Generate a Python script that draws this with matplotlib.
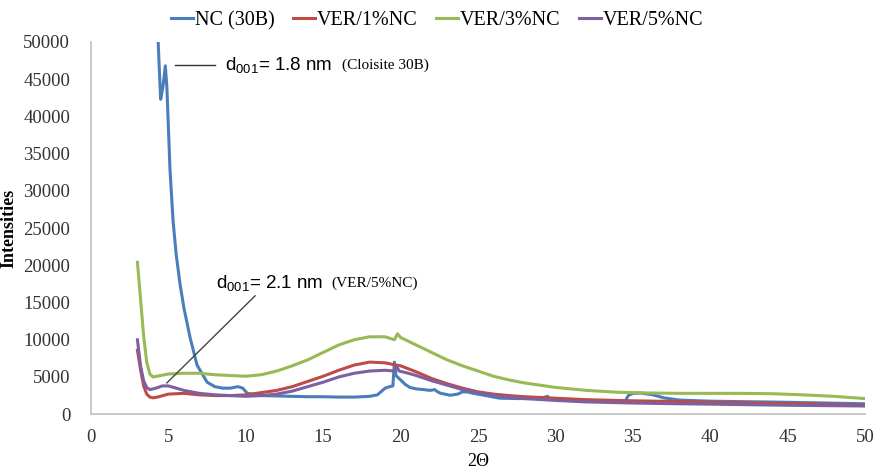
import matplotlib
matplotlib.use("Agg")
import matplotlib.pyplot as plt

# ---- data ----
nc_x = [4.3, 4.4, 4.5, 4.65, 4.8, 4.9, 5.1, 5.3, 5.5, 5.75, 6.0, 6.4, 6.85, 7.5, 8.0, 8.5, 9.0, 9.5, 9.8, 10.1,
        11, 12, 13, 14, 15, 16, 17, 18, 18.5, 19.0, 19.3, 19.5, 19.6, 19.7, 19.9, 20.0, 20.3, 20.6, 21, 21.5,
        21.9, 22.2, 22.4, 22.6, 23.2, 23.7, 24.0, 24.3, 24.7, 25.5, 26.4, 27.5, 29.0, 29.5, 29.6, 30, 31, 32,
        33, 34, 34.5, 34.7, 35, 35.5, 36.3, 37, 38, 40, 45, 50]
nc_y = [52000, 47000, 42300, 44000, 46800, 44000, 33000, 26000, 21500, 17500, 14300, 10300, 6600, 4300, 3700,
        3500, 3500, 3700, 3500, 2800, 2500, 2450, 2400, 2350, 2350, 2300, 2300, 2400, 2600, 3500, 3700, 3800,
        7000, 5200, 4800, 4600, 4000, 3600, 3400, 3300, 3200, 3300, 3000, 2800, 2550, 2700, 3000, 3000, 2800,
        2500, 2150, 2100, 2100, 2400, 2100, 2000, 1900, 1850, 1800, 1750, 1700, 2500, 2800, 2850, 2600, 2200,
        1900, 1750, 1600, 1400]

v1_x = [3.0, 3.2, 3.4, 3.6, 3.8, 4.0, 4.3, 5, 6, 7, 8, 9, 10, 11, 12, 13, 14, 15, 16, 17, 18, 19, 19.7, 20,
        21, 22, 23, 24, 25, 26, 27, 28, 30, 32, 35, 38, 40, 45, 50]
v1_y = [8600, 6000, 3800, 2700, 2300, 2200, 2300, 2700, 2800, 2600, 2500, 2500, 2600, 2900, 3200, 3700, 4400,
        5100, 5900, 6600, 7000, 6900, 6600, 6500, 5700, 4800, 4100, 3500, 3000, 2700, 2500, 2350, 2150, 1950,
        1800, 1700, 1600, 1450, 1200]

v3_x = [3.0, 3.2, 3.4, 3.6, 3.8, 4.0, 4.5, 5, 6, 7, 8, 9, 10, 11, 12, 13, 14, 15, 16, 17, 18, 19, 19.6, 19.8,
        20.0, 21, 22, 23, 24, 25, 26, 27, 28, 30, 32, 34, 36, 38, 40, 42, 44, 46, 48, 50]
v3_y = [20400, 15500, 10500, 7000, 5400, 5000, 5200, 5400, 5500, 5500, 5300, 5200, 5100, 5300, 5800, 6500,
        7300, 8300, 9300, 10000, 10400, 10400, 10000, 10800, 10300, 9300, 8300, 7300, 6500, 5800, 5100, 4600,
        4200, 3600, 3200, 2950, 2850, 2800, 2800, 2800, 2750, 2600, 2400, 2100]

v5_x = [3.0, 3.2, 3.4, 3.6, 3.8, 4.2, 4.6, 5.0, 5.5, 6, 7, 8, 9, 10, 11, 12, 13, 14, 15, 16, 17, 18, 19, 19.6,
        19.75, 19.9, 20.5, 21, 22, 23, 24, 25, 26, 27, 28, 30, 32, 35, 38, 40, 45, 50]
v5_y = [10000, 6500, 4500, 3600, 3300, 3500, 3800, 3800, 3500, 3200, 2800, 2600, 2500, 2400, 2500, 2700, 3100,
        3700, 4300, 5000, 5500, 5800, 5900, 5800, 6400, 5800, 5500, 5200, 4500, 3900, 3300, 2900, 2500, 2250,
        2100, 1850, 1650, 1500, 1400, 1350, 1200, 1100]

labels = ["NC (30B)", "VER/1%NC", "VER/3%NC", "VER/5%NC"]
colors = ["#4a7ebb", "#be4b48", "#98b954", "#7d60a0"]
x_ticks = [0, 5, 10, 15, 20, 25, 30, 35, 40, 45, 50]
y_ticks = [0, 5000, 10000, 15000, 20000, 25000, 30000, 35000, 40000, 45000, 50000]

plt.rcParams['mathtext.fontset'] = 'custom'
plt.rcParams['mathtext.rm'] = 'Liberation Sans'
plt.rcParams['mathtext.it'] = 'Liberation Sans'

fig = plt.figure(figsize=(8.8, 4.75), dpi=100)
ax = fig.add_axes([0.1034, 0.128, 0.8796, 0.7836])

serif = "Liberation Serif"
for xs, ys, lab, c in zip([nc_x, v1_x, v3_x, v5_x], [nc_y, v1_y, v3_y, v5_y], labels, colors):
    ax.plot(xs, ys, color=c, lw=2.2, label=lab)

ax.set_xlim(0, 50)
ax.set_ylim(0, 50000)
ax.set_xticks(x_ticks)
ax.set_yticks(y_ticks)
ax.set_xticklabels([str(t) for t in x_ticks], fontfamily=serif, fontsize=13.5, color="#333333")
ax.set_yticklabels([str(t) for t in y_ticks], fontfamily=serif, fontsize=13.5, color="#333333")
ax.tick_params(axis="x", length=0, pad=11)
ax.tick_params(axis="y", length=0, pad=15)
for s in ["top", "right"]:
    ax.spines[s].set_visible(False)
for s in ["left", "bottom"]:
    ax.spines[s].set_color("#bfbfbf")
    ax.spines[s].set_linewidth(1.2)

ax.set_xlabel("2Θ", fontfamily=serif, fontsize=13, labelpad=5)
ax.set_ylabel("Intensities", fontfamily=serif, fontsize=13, fontweight="bold", labelpad=4)

# annotations
ax.plot([5.43, 8.0], [46900, 46900], color="#333333", lw=1)
ax.text(8.65, 46900, r"d$_{001}$= 1.8 nm", fontfamily="Liberation Sans", fontsize=13.5, va="center")
ax.text(16.2, 46900, "(Cloisite 30B)", fontfamily=serif, fontsize=11, va="center")

ax.plot([4.9, 10.6], [4200, 15900], color="#444444", lw=1)
ax.text(8.1, 17600, r"d$_{001}$= 2.1 nm", fontfamily="Liberation Sans", fontsize=13.5, va="center")
ax.text(15.5, 17600, "(VER/5%NC)", fontfamily=serif, fontsize=11, va="center")

fig.legend(loc="upper center", bbox_to_anchor=(0.497, 1.015), ncol=4, frameon=False,
           prop={"family": serif, "size": 14.5}, handlelength=1.1, handletextpad=0.1, columnspacing=0.9)

fig.savefig("out.png", dpi=100)
